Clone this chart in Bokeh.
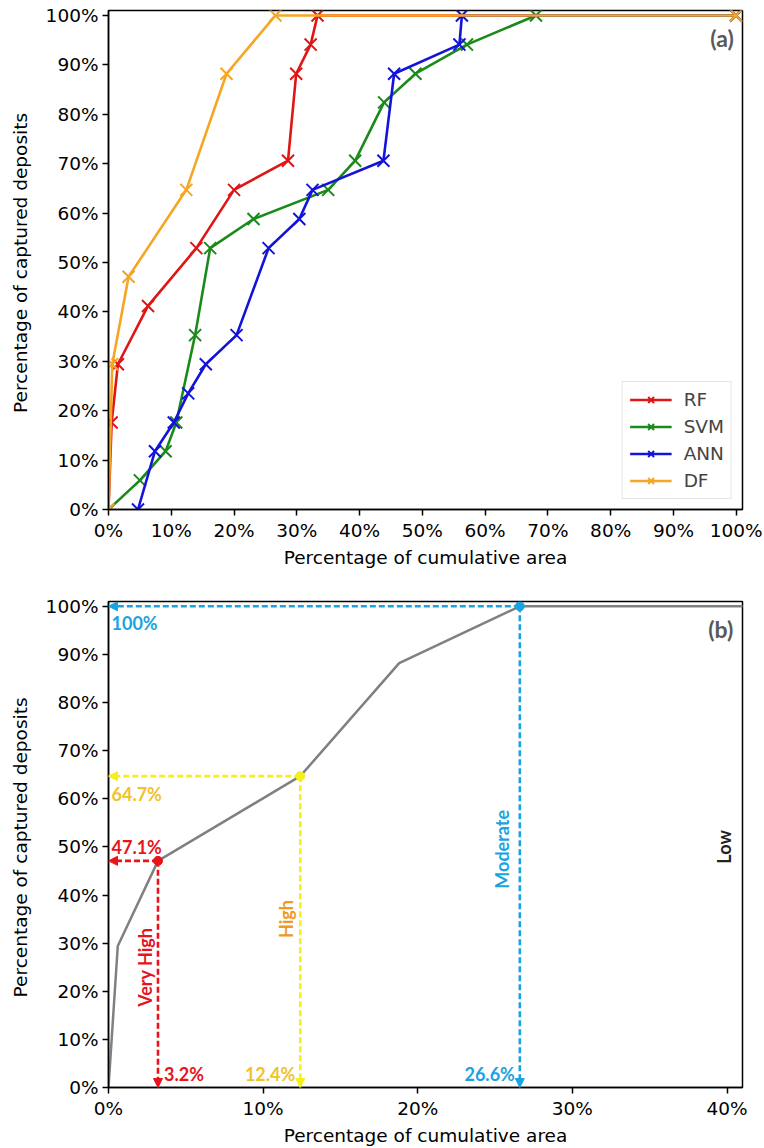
import math
from bokeh.plotting import figure
from bokeh.layouts import column
from bokeh.models import (Legend, Arrow, NormalHead, FixedTicker, Range1d, Label,
                          PrintfTickFormatter, ColumnDataSource)
from bokeh.embed import file_html
from bokeh.resources import INLINE

# ---------------- data (panel a) ----------------
rf_x = [0, 0.5, 1.5, 6.3, 14.0, 20.0, 28.6, 29.9, 32.2, 33.3, 100]
rf_y = [0, 17.6, 29.4, 41.2, 52.9, 64.7, 70.6, 88.2, 94.1, 100, 100]

svm_x = [0, 5.0, 9.1, 10.8, 13.8, 16.2, 23.1, 35.0, 39.3, 43.9, 48.9, 57.1, 68.1, 100]
svm_y = [0, 5.9, 11.8, 17.6, 35.3, 52.9, 58.8, 64.7, 70.6, 82.4, 88.2, 94.1, 100, 100]

ann_x = [4.7, 7.4, 10.4, 12.7, 15.5, 20.4, 25.5, 30.4, 32.5, 43.8, 45.5, 55.9, 56.3, 100]
ann_y = [0, 11.8, 17.6, 23.5, 29.4, 35.3, 52.9, 58.8, 64.7, 70.6, 88.2, 94.1, 100, 100]

df_x = [0, 0.6, 3.2, 12.4, 18.8, 26.6, 100]
df_y = [0, 29.4, 47.1, 64.7, 88.2, 100, 100]

series_names = ["RF", "SVM", "ANN", "DF"]
series_colors = ["#e01515", "#1a8a1a", "#1414d8", "#f5a623"]

# ---------------- data (panel b thresholds) ----------------
class_names = ["Very High", "High", "Moderate"]
class_area = [3.2, 12.4, 26.6]        # % cumulative area
class_deposits = [47.1, 64.7, 100.0]  # % captured deposits
class_line_colors = ["#e8141c", "#f5ef1c", "#1aa3df"]
class_text_colors = ["#e8141c", "#f0c22c", "#1aa3df"]
class_name_colors = ["#e8141c", "#ee9a1e", "#1aa3df"]

pct_ticks_y = [0, 10, 20, 30, 40, 50, 60, 70, 80, 90, 100]
pct_ticks_xa = [0, 10, 20, 30, 40, 50, 60, 70, 80, 90, 100]
pct_ticks_xb = [0, 10, 20, 30, 40]

TICK_FONT = "DejaVu Sans"
ANN_FONT = "Lato"
FS = "18.5px"


def style(p, xticks):
    p.outline_line_color = "black"
    p.outline_line_width = 1.5
    p.xgrid.visible = False
    p.ygrid.visible = False
    for ax in (p.xaxis[0], p.yaxis[0]):
        ax.formatter = PrintfTickFormatter(format="%d%%")
        ax.major_label_text_font = TICK_FONT
        ax.major_label_text_font_size = FS
        ax.major_label_text_color = "black"
        ax.axis_label_text_font = TICK_FONT
        ax.axis_label_text_font_size = FS
        ax.axis_label_text_font_style = "normal"
        ax.axis_label_text_color = "black"
        ax.axis_line_color = "black"
        ax.axis_line_width = 1.5
        ax.major_tick_line_color = "black"
        ax.major_tick_line_width = 1.5
        ax.major_tick_out = 6
        ax.major_tick_in = 0
        ax.minor_tick_line_color = None
        ax.major_label_standoff = 4
    p.xaxis[0].ticker = FixedTicker(ticks=xticks)
    p.yaxis[0].ticker = FixedTicker(ticks=pct_ticks_y)
    p.xaxis[0].axis_label = "Percentage of cumulative area"
    p.yaxis[0].axis_label = "Percentage of captured  deposits"
    p.yaxis[0].axis_label_standoff = 12
    p.xaxis[0].axis_label_standoff = 3


# ---------------- panel (a) ----------------
pa = figure(width=764, height=580, output_backend="svg", toolbar_location=None,
            x_range=Range1d(0, 101), y_range=Range1d(0, 101),
            min_border_left=108, min_border_right=22, min_border_top=10,
            min_border_bottom=71)
style(pa, pct_ticks_xa)

data_a = [(rf_x, rf_y), (svm_x, svm_y), (ann_x, ann_y), (df_x, df_y)]
items = []
for (xs, ys), name, col in zip(data_a, series_names, series_colors):
    r1 = pa.line(xs, ys, line_color=col, line_width=2.6)
    r2 = pa.scatter(xs, ys, marker="x", size=17, line_color=col, line_width=2)
    items.append((name, [r1, r2]))

legend = Legend(items=items, location="bottom_right")
legend.margin = 10
legend.padding = 7
legend.spacing = 6
legend.glyph_width = 42
legend.glyph_height = 21
legend.label_height = 21
legend.label_standoff = 12
legend.label_text_font = TICK_FONT
legend.label_text_font_size = FS
legend.border_line_color = "#cccccc"
legend.border_line_width = 1
legend.background_fill_alpha = 0.85
pa.add_layout(legend, "center")

pa.add_layout(Label(x=99.6, y=95.4, text="(a)", text_align="right", text_baseline="middle",
                    text_font=ANN_FONT, text_font_style="bold", text_font_size="23px",
                    text_color="#595959"))

# ---------------- panel (b) ----------------
pb = figure(width=764, height=568, output_backend="svg", toolbar_location=None,
            x_range=Range1d(0, 41), y_range=Range1d(0, 101),
            min_border_left=108, min_border_right=7, min_border_top=21,
            min_border_bottom=56)
style(pb, pct_ticks_xb)

pb.line(df_x, df_y, line_color="#808080", line_width=2.5)

for xa, yd, lc in zip(class_area, class_deposits, class_line_colors):
    src_h = ColumnDataSource(dict(x0=[xa], y0=[yd], x1=[0], y1=[yd]))
    src_v = ColumnDataSource(dict(x0=[xa], y0=[yd], x1=[xa], y1=[0]))
    for src in (src_h, src_v):
        pb.add_layout(Arrow(source=src, x_start="x0", y_start="y0", x_end="x1", y_end="y1",
                            line_color=lc, line_width=2.6, line_dash="6 3",
                            end=NormalHead(size=9, fill_color=lc, line_color=lc)))
pb.scatter(class_area, class_deposits, size=9, color=class_line_colors)

ANN_FS = "18px"
# value labels for captured deposits (on the y-axis side)
dep_offsets = [(3, 3, "bottom"), (3, -7, "top"), (3, -6, "top")]
for yd, tc, (xo, yo, bl) in zip(class_deposits, class_text_colors, dep_offsets):
    pb.add_layout(Label(x=0, y=yd, x_offset=xo, y_offset=yo, text=f"{yd:g}%",
                        text_align="left", text_baseline=bl, text_font=ANN_FONT,
                        text_font_style="bold", text_font_size=ANN_FS, text_color=tc))

# value labels for cumulative area (near the x-axis)
area_cfg = [("left", 6), ("right", -5), ("right", -5)]
for xa, tc, (al, xo) in zip(class_area, class_text_colors, area_cfg):
    pb.add_layout(Label(x=xa, y=0, x_offset=xo, y_offset=3, text=f"{xa:g}%",
                        text_align=al, text_baseline="bottom", text_font=ANN_FONT,
                        text_font_style="bold", text_font_size=ANN_FS, text_color=tc))

# rotated class names
name_pos = [(25, -13), (35, -14), (49.5, -18)]
for xa, nm, nc, (yc, xo) in zip(class_area, class_names, class_name_colors, name_pos):
    pb.add_layout(Label(x=xa, y=yc, x_offset=xo, text=nm, angle=math.pi / 2,
                        text_align="center", text_baseline="middle", text_font=ANN_FONT,
                        text_font_style="bold", text_font_size=ANN_FS, text_color=nc))

pb.add_layout(Label(x=39.8, y=50, text="Low", angle=math.pi / 2, text_align="center",
                    text_baseline="middle", text_font=ANN_FONT, text_font_style="bold",
                    text_font_size=ANN_FS, text_color="#222222"))
pb.add_layout(Label(x=40.4, y=95.3, text="(b)", text_align="right", text_baseline="middle",
                    text_font=ANN_FONT, text_font_style="bold", text_font_size="23px",
                    text_color="#595959"))

layout = column(pa, pb, spacing=0)
open("out.html", "w").write(file_html(layout, INLINE))
